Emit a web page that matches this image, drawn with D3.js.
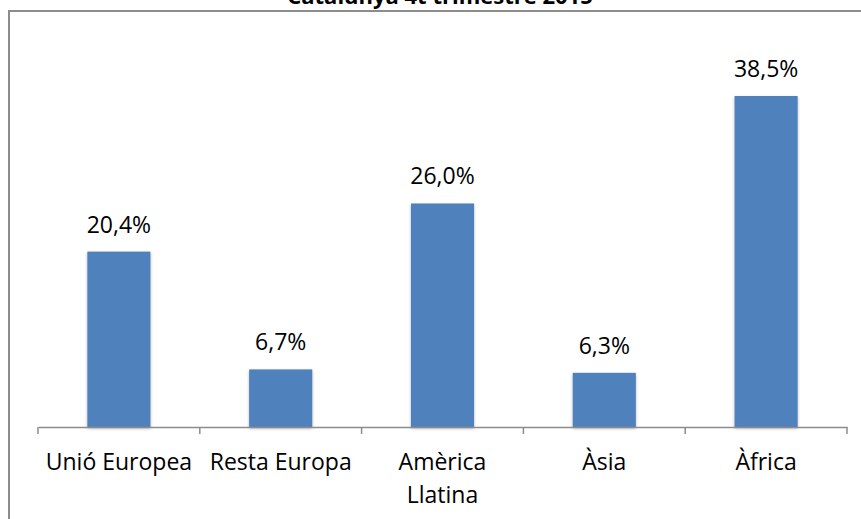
<!DOCTYPE html>
<html>
<head>
<meta charset="utf-8">
<script src="https://cdn.jsdelivr.net/npm/d3@7"></script>
<style>
  html, body { margin: 0; padding: 0; background: #fff; }
  svg { display: block; }
</style>
</head>
<body>
<svg id="chart" width="861" height="519"></svg>
<script>
const title = "Catalunya 4t trimestre 2015";
const categories = [["Unió Europea"], ["Resta Europa"], ["Amèrica", "Llatina"], ["Àsia"], ["Àfrica"]];
const values = [20.4, 6.7, 26.0, 6.3, 38.5];
const valueLabels = ["20,4%", "6,7%", "26,0%", "6,3%", "38,5%"];

const svg = d3.select("#chart");
const font = "'Open Sans', sans-serif";

const defs = svg.append("defs");
const f = defs.append("filter").attr("id", "shadow").attr("x", "-20%").attr("y", "-10%").attr("width", "140%").attr("height", "130%");
f.append("feDropShadow").attr("dx", 0).attr("dy", 1.5).attr("stdDeviation", 1.5).attr("flood-color", "#000").attr("flood-opacity", 0.3);

// frame
svg.append("path")
  .attr("d", "M9,519 L9,11 L861,11")
  .attr("fill", "none").attr("stroke", "#8c8c8c").attr("stroke-width", 2);

// title (cut off at the top edge, as in the reference)
svg.append("text")
  .attr("x", 440).attr("y", 4)
  .attr("text-anchor", "middle")
  .attr("font-family", font).attr("font-weight", "bold").attr("font-size", 22)
  .attr("fill", "#000")
  .text(title);

const x = d3.scaleBand().domain(d3.range(categories.length)).range([38, 847]).padding(0);
const y = d3.scaleLinear().domain([0, 38.5]).range([427, 96]);

const barW = x.bandwidth() * 0.39;

svg.append("g").selectAll("rect").data(values).join("rect")
  .attr("x", (d, i) => x(i) + x.bandwidth() / 2 - barW / 2)
  .attr("y", d => y(d))
  .attr("width", barW)
  .attr("height", d => y(0) - y(d))
  .attr("fill", "#4f81bd")
  .attr("filter", "url(#shadow)");

// axis
const axis = d3.axisBottom(x).tickSize(0).tickFormat("");
const ag = svg.append("g").attr("transform", "translate(0,427)").call(axis);
ag.select(".domain").attr("stroke", "#8c8c8c").attr("stroke-width", 1.5);
// category boundary ticks
const bounds = x.domain().map(i => x(i)).concat([x.range()[1]]);
ag.selectAll(".bt").data(bounds).join("line").attr("class", "bt")
  .attr("x1", d => d).attr("x2", d => d).attr("y1", 0).attr("y2", 7)
  .attr("stroke", "#8c8c8c").attr("stroke-width", 1.5);

// category labels
const cl = svg.append("g");
categories.forEach((lines, i) => {
  const t = cl.append("text")
    .attr("text-anchor", "middle")
    .attr("font-family", font).attr("font-size", 23).attr("fill", "#000");
  lines.forEach((ln, j) => {
    t.append("tspan").attr("x", x(i) + x.bandwidth() / 2).attr("y", 470 + j * 32.5).text(ln);
  });
});

// value labels
svg.append("g").selectAll("text").data(values).join("text")
  .attr("x", (d, i) => x(i) + x.bandwidth() / 2)
  .attr("y", d => y(d) - 19)
  .attr("text-anchor", "middle")
  .attr("font-family", font).attr("font-size", 23).attr("fill", "#000")
  .text((d, i) => valueLabels[i]);
</script>
</body>
</html>
